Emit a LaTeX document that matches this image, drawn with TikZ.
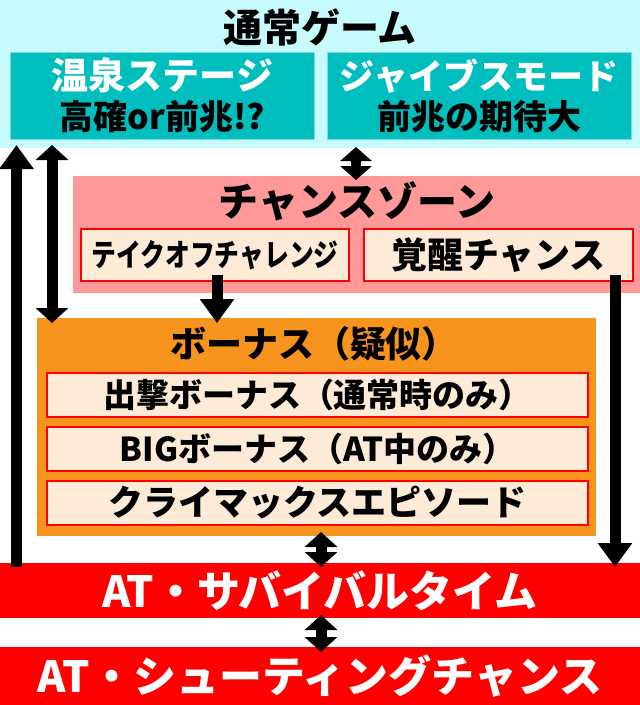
\documentclass[tikz,border=0pt]{standalone}
\usepackage{fontspec}
\usepackage{graphicx}
\setmainfont{Noto Sans CJK JP}
\usetikzlibrary{arrows.meta}

\definecolor{normalbg}{RGB}{198,250,252}
\definecolor{stagebg}{RGB}{0,190,190}
\definecolor{stageline}{RGB}{120,222,222}
\definecolor{chancebg}{RGB}{255,153,153}
\definecolor{cream}{RGB}{253,235,216}
\definecolor{bonusbg}{RGB}{247,148,29}
\definecolor{atred}{RGB}{255,0,0}

\begin{document}
\begin{tikzpicture}[
        x=1pt, y=-1pt,
        panel/.style={rectangle, inner sep=0pt, outer sep=0pt},
        stage/.style={panel, fill=stagebg, draw=stageline, line width=1pt, align=center,
            minimum width=304pt, minimum height=87pt, font=\bfseries\fontsize{34}{40}\selectfont},
        item/.style={panel, fill=cream, draw=atred, line width=1.2pt},
        atbox/.style={panel, fill=atred, text=white, minimum width=640pt,
            font=\bfseries\fontsize{43}{43}\selectfont},
        head/.style={font=\bfseries\fontsize{#1}{#1}\selectfont},
        bigarrow/.style={line width=11pt, -{Triangle[length=24pt,width=33pt]}},
        dblarrow/.style={line width=11pt, {Triangle[length=15pt,width=32pt]}-{Triangle[length=15pt,width=32pt]}}
    ]
        \useasboundingbox (0,0) rectangle (640,705);

        % normal game
        \node[panel, fill=normalbg, minimum width=640pt, minimum height=148pt] (normal) at (320,74) {};
        \node[head=39] (normaltxt) at (320,27) {通常ゲーム};
        \node[stage] (onsen) at (162.5,95.5) {{\color{white}\fontsize{37}{40}\selectfont 温泉ステージ}\\高確or前兆!?};
        \node[stage] (jive) at (479,95.5) {{\color{white}\fontsize{35}{40}\selectfont ジャイブスモード}\\前兆の期待大};

        % chance zone
        \node[panel, fill=chancebg, minimum width=567pt, minimum height=117pt] (chance) at (356.5,234.5) {};
        \node[head=40] (chancetxt) at (357,201) {チャンスゾーン};
        \node[item, minimum width=268pt, minimum height=52pt, head=31] (takeoff) at (215,255) {\scalebox{0.8}[1]{テイクオフチャレンジ}};
        \node[item, minimum width=269pt, minimum height=52pt, head=36] (kakusei) at (498.5,255) {覚醒チャンス};

        % bonus
        \node[panel, fill=bonusbg, minimum width=559pt, minimum height=218pt] (bonus) at (316.5,427) {};
        \node[head=36] (bonustxt) at (314,344) {ボーナス（疑似）};
        \node[item, minimum width=541pt, minimum height=44pt, head=33] (b1) at (317.5,395) {出撃ボーナス（通常時のみ）};
        \node[item, minimum width=541pt, minimum height=44pt, head=33] (b2) at (317.5,449) {BIGボーナス（AT中のみ）};
        \node[item, minimum width=541pt, minimum height=44pt, head=35] (b3) at (317.5,503) {クライマックスエピソード};

        % AT
        \node[atbox, minimum height=55pt] (survival) at (320,590.5) {AT・サバイバルタイム};
        \node[atbox, minimum height=58pt] (shooting) at (320,676) {AT・シューティングチャンス};

        \coordinate (lout) at (16.5,0);
        \coordinate (lin) at (52,0);
        \coordinate (mid) at (356,0);
        \coordinate (down) at (217,0);
        \coordinate (rout) at (615,0);
        \coordinate (ctr) at (321,0);

        \draw[bigarrow, shorten <=-4pt, shorten >=-3pt] (lout |- survival.north) -- (lout |- normal.south);
        \draw[dblarrow, shorten <=-3pt, shorten >=-5pt] (lin |- normal.south) -- (lin |- bonus.north);
        \draw[dblarrow, line width=10pt, {Triangle[length=14pt,width=31pt]}-{Triangle[length=14pt,width=31pt]},
            shorten <=-1pt, shorten >=-4pt] (mid |- normal.south) -- (mid |- chance.north);
        \draw[bigarrow, shorten <=-6pt, shorten >=-5pt] (down |- takeoff.south) -- (down |- bonus.north);
        \draw[bigarrow, shorten <=-6pt, shorten >=-4pt] (rout |- kakusei.south) -- (rout |- survival.north);
        \draw[dblarrow, shorten <=-4pt, shorten >=-4pt] (ctr |- bonus.south) -- (ctr |- survival.north);
        \draw[dblarrow, shorten <=-3pt, shorten >=-5pt] (ctr |- survival.south) -- (ctr |- shooting.north);
    \end{tikzpicture}
\end{document}
